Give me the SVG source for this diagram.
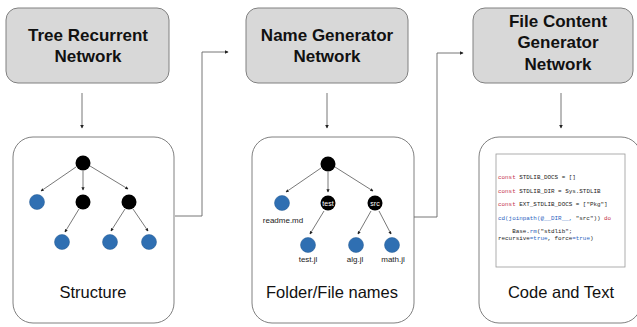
<svg xmlns="http://www.w3.org/2000/svg" width="637" height="327" viewBox="0 0 637 327">
<defs>
<marker id="ah" viewBox="0 0 6 6" refX="5" refY="3" markerWidth="4" markerHeight="4" orient="auto">
<path d="M0,0 L6,3 L0,6 z" fill="#222"/>
</marker>
<style>
.net{fill:#d8d8d8;stroke:#808080;stroke-width:1}
.out{fill:#fff;stroke:#808080;stroke-width:1}
.title{font-family:"Liberation Sans",Arial,sans-serif;font-weight:bold;font-size:17px;fill:#111;text-anchor:middle}
.cap{font-family:"Liberation Sans",Arial,sans-serif;font-size:16.5px;fill:#111;text-anchor:middle}
.lbl{font-family:"Liberation Sans",Arial,sans-serif;font-size:8px;fill:#222;text-anchor:middle}
.in{font-family:"Liberation Sans",Arial,sans-serif;font-size:7px;fill:#fff;text-anchor:middle}
.blk{fill:#000}
.blu{fill:#2f6fb2;stroke:#255a92;stroke-width:0.5}
.edge{stroke:#555;stroke-width:0.8;fill:none;marker-end:url(#ah)}
.conn{stroke:#666;stroke-width:0.9;fill:none;marker-end:url(#ah)}
.code{font-family:"Liberation Mono","DejaVu Sans Mono",monospace;font-size:5.9px;fill:#222;white-space:pre}
.kw{fill:#c4314b}
.fn{fill:#2c5fc0}
</style>
</defs>

<g id="tree-recurrent-network">
<rect class="net" x="6" y="8" width="163" height="75" rx="12"/>
<text class="title" x="88" y="41">Tree Recurrent</text>
<text class="title" x="88" y="62">Network</text>
</g>

<g id="name-generator-network">
<rect class="net" x="246" y="8" width="162" height="75" rx="12"/>
<text class="title" x="327" y="41">Name Generator</text>
<text class="title" x="327" y="62">Network</text>
</g>

<g id="file-content-generator-network">
<rect class="net" x="473" y="8" width="160" height="75" rx="12"/>
<text class="title" x="558" y="27">File Content</text>
<text class="title" x="558" y="48">Generator</text>
<text class="title" x="558" y="70">Network</text>
</g>

<g id="structure">
<rect class="out" x="13" y="137" width="161" height="186" rx="20"/>
<g class="tree-edges">
<line class="edge" x1="76" y1="167" x2="41" y2="191"/>
<line class="edge" x1="83" y1="171" x2="83" y2="190"/>
<line class="edge" x1="90" y1="166" x2="128" y2="189"/>
<line class="edge" x1="79" y1="209" x2="65" y2="232"/>
<line class="edge" x1="125" y1="209" x2="111" y2="231"/>
<line class="edge" x1="133" y1="209" x2="148" y2="231"/>
</g>
<circle class="blk" cx="83" cy="163" r="7.5"/>
<circle class="blu" cx="37" cy="202" r="7.5"/>
<circle class="blk" cx="83" cy="202" r="7.5"/>
<circle class="blk" cx="129" cy="202" r="7.5"/>
<circle class="blu" cx="62" cy="242" r="7.5"/>
<circle class="blu" cx="110" cy="242" r="7.5"/>
<circle class="blu" cx="149" cy="242" r="7.5"/>
<text class="cap" x="93" y="298">Structure</text>
</g>

<g id="folder-file-names">
<rect class="out" x="252" y="137" width="162" height="186" rx="20"/>
<g class="tree-edges">
<line class="edge" x1="321" y1="168" x2="286" y2="192"/>
<line class="edge" x1="328" y1="172" x2="328" y2="192"/>
<line class="edge" x1="335" y1="167" x2="373" y2="191"/>
<line class="edge" x1="324" y1="211" x2="310" y2="234"/>
<line class="edge" x1="371" y1="211" x2="358" y2="234"/>
<line class="edge" x1="379" y1="211" x2="391" y2="234"/>
</g>
<circle class="blk" cx="328" cy="164" r="7.5"/>
<circle class="blu" cx="282" cy="203" r="7.5"/>
<circle class="blk" cx="328" cy="203" r="7.5"/>
<circle class="blk" cx="375" cy="203" r="7.5"/>
<circle class="blu" cx="308" cy="245" r="7.5"/>
<circle class="blu" cx="356" cy="245" r="7.5"/>
<circle class="blu" cx="392" cy="245" r="7.5"/>
<text class="in" x="328" y="205.5">test</text>
<text class="in" x="375" y="205.5">src</text>
<text class="lbl" x="283" y="223">readme.md</text>
<text class="lbl" x="308" y="262">test.jl</text>
<text class="lbl" x="355" y="262">alg.jl</text>
<text class="lbl" x="393" y="262">math.jl</text>
<text class="cap" x="332" y="298">Folder/File names</text>
</g>

<g id="code-and-text">
<rect class="out" x="479" y="137" width="162" height="186" rx="20"/>
<rect x="496" y="154" width="129" height="113" fill="#fff" stroke="#999" stroke-width="0.8"/>
<text class="code" x="498" y="179"><tspan class="kw">const</tspan> STDLIB_DOCS = []</text>
<text class="code" x="498" y="193"><tspan class="kw">const</tspan> STDLIB_DIR = Sys.STDLIB</text>
<text class="code" x="498" y="206"><tspan class="kw">const</tspan> EXT_STDLIB_DOCS = ["Pkg"]</text>
<text class="code" x="498" y="220"><tspan class="fn">cd(joinpath(@__DIR__,</tspan> "src")) <tspan class="kw">do</tspan></text>
<text class="code" x="498" y="233">    Base.<tspan class="fn">rm</tspan>("stdlib";</text>
<text class="code" x="498" y="240">recursive<tspan class="fn">=true</tspan>, force<tspan class="fn">=true</tspan>)</text>
<text class="cap" x="561" y="298">Code and Text</text>
</g>

<g id="connectors">
<line class="conn" x1="82" y1="93" x2="82" y2="128"/>
<line class="conn" x1="327" y1="93" x2="327" y2="128"/>
<line class="conn" x1="561" y1="93" x2="561" y2="128"/>
<polyline class="conn" points="175,216 202,216 202,52 228,52"/>
<polyline class="conn" points="414,217 437,217 437,53 463,53"/>
</g>
</svg>
